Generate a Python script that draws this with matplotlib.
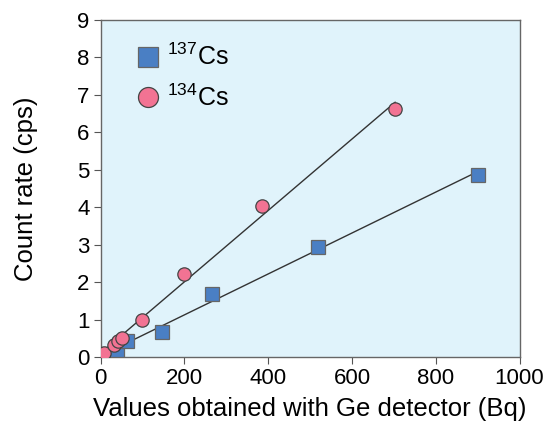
import matplotlib.pyplot as plt
import numpy as np

plt.rcParams['font.family'] = ['Liberation Sans', 'DejaVu Sans']
plt.rcParams['mathtext.fontset'] = 'custom'
plt.rcParams['mathtext.rm'] = 'Liberation Sans'
plt.rcParams['mathtext.it'] = 'Liberation Sans'

# Values
cs137_x = np.array([3, 11, 39, 62, 146, 265, 520, 900])
cs137_y = np.array([0.02, 0.08, 0.18, 0.44, 0.67, 1.68, 2.95, 4.87])
cs134_x = np.array([7, 31, 42, 51, 98, 200, 385, 703])
cs134_y = np.array([0.12, 0.33, 0.44, 0.52, 1.00, 2.22, 4.02, 6.62])

fig = plt.figure(figsize=(5.44, 4.23), dpi=100)
ax = fig.add_axes([0.185, 0.156, 0.77, 0.797])
ax.set_facecolor('#e0f3fb')

# Linear fits through each series
for x, y in [(cs137_x, cs137_y), (cs134_x, cs134_y)]:
    k, c = np.polyfit(x, y, 1)
    xs = np.array([0, x.max()])
    ax.plot(xs, k * xs + c, color='#333333', lw=1.0, zorder=2)

ax.plot(cs137_x, cs137_y, 's', ms=9.6, mfc='#4a7fc4', mec='#666666', mew=0.9,
        ls='none', label=r'$^{137}$Cs', zorder=3)
ax.plot(cs134_x, cs134_y, 'o', ms=9.6, mfc='#f27393', mec='#444444', mew=0.9,
        ls='none', label=r'$^{134}$Cs', zorder=3)

ax.set_xlim(0, 1000)
ax.set_ylim(0, 9)
ax.set_xticks(np.arange(0, 1001, 200))
ax.set_yticks(np.arange(0, 10, 1))
ax.tick_params(direction='out', length=5, width=0.8, color='#555555',
               labelsize=16, pad=3)
for s in ax.spines.values():
    s.set_color('#666666')
    s.set_linewidth(1.0)

ax.set_xlabel('Values obtained with Ge detector (Bq)', fontsize=18.5, labelpad=6)
ax.set_ylabel('Count rate (cps)', fontsize=18.5, labelpad=28)

leg = ax.legend(loc='upper left', bbox_to_anchor=(0.03, 0.995), frameon=False,
                markerscale=1.5, fontsize=18, handletextpad=0.25,
                labelspacing=0.55, handlelength=1.0)

fig.savefig('out.png', dpi=100)
